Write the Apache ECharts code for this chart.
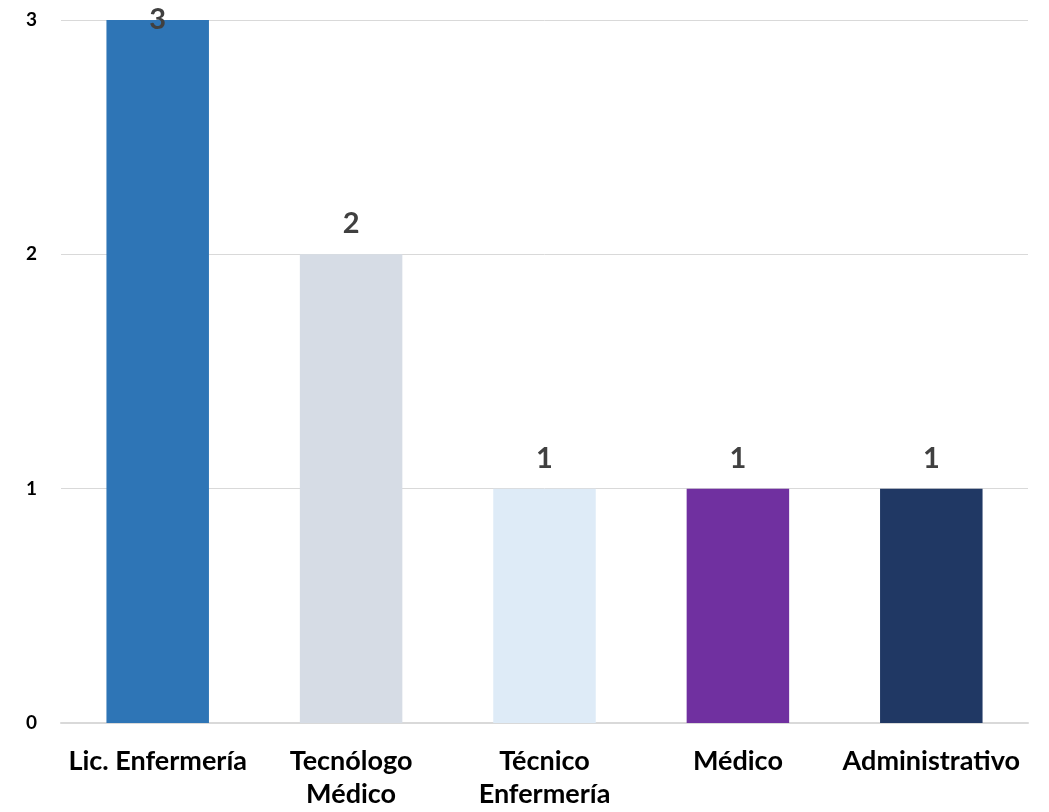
<!DOCTYPE html>
<html>
<head>
<meta charset="utf-8">
<script src="https://cdn.jsdelivr.net/npm/echarts@6/dist/echarts.min.js"></script>
<style>
  html, body { margin: 0; padding: 0; background: #fff; }
  #chart { width: 1049px; height: 812px; }
</style>
</head>
<body>
<div id="chart"></div>
<script>
var categories = ['Lic. Enfermería', 'Tecnólogo\nMédico', 'Técnico\nEnfermería', 'Médico', 'Administrativo'];
var values = [3, 2, 1, 1, 1];
var barColors = ['#2E75B6', '#D6DCE5', '#DEEBF7', '#7030A0', '#203864'];
var yTicks = [0, 1, 2, 3];

var chart = echarts.init(document.getElementById('chart'));

var seriesData = values.map(function (v, i) {
  var item = { value: v, itemStyle: { color: barColors[i] } };
  // top bar label sits on the top edge of the plot
  if (v === yTicks[yTicks.length - 1]) {
    item.label = { offset: [0, 30] };
  }
  return item;
});

var option = {
  animation: false,
  grid: { left: 61, right: 21, top: 20, bottom: 89, containLabel: false },
  xAxis: {
    type: 'category',
    data: categories,
    axisLine: { lineStyle: { color: '#D9D9D9', width: 2 } },
    axisTick: { show: false },
    axisLabel: {
      color: '#000',
      fontFamily: 'Lato',
      fontWeight: 'bold',
      fontSize: 27,
      lineHeight: 33,
      margin: 22,
      interval: 0
    }
  },
  yAxis: {
    type: 'value',
    min: 0,
    max: 3,
    interval: 1,
    axisLine: { show: false },
    axisTick: { show: false },
    splitLine: { lineStyle: { color: '#D9D9D9', width: 1 } },
    axisLabel: {
      color: '#000',
      fontFamily: 'Lato',
      fontWeight: 'bold',
      fontSize: 19,
      margin: 24
    }
  },
  series: [{
    type: 'bar',
    data: seriesData,
    barWidth: '53%',
    label: {
      show: true,
      position: 'top',
      distance: 16,
      color: '#404040',
      fontFamily: 'Lato',
      fontWeight: 'bold',
      fontSize: 29
    }
  }]
};

chart.setOption(option);
</script>
</body>
</html>
